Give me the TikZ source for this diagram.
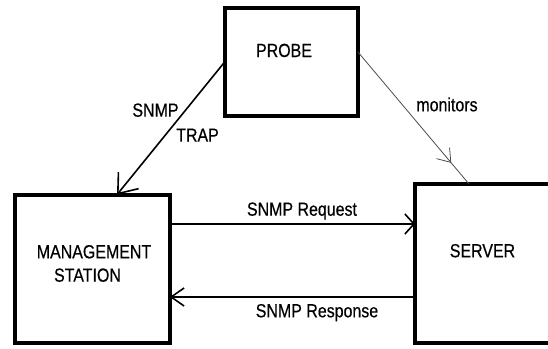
\documentclass[tikz,border=0pt]{standalone}
\usepackage{fontspec}
\newfontfamily\lblfont{Liberation Sans}[FakeStretch=0.84, FakeBold=0.4]
\usetikzlibrary{arrows.meta,calc,decorations.markings}
\begin{document}
\begin{tikzpicture}[x=1pt,y=-1pt,
  box/.style={draw, line width=4pt, inner sep=0pt, outer sep=0pt},
  lbl/.style={font=\lblfont\fontsize{19}{22}\selectfont, anchor=base, inner sep=0pt},
  link/.style={line width=1.6pt},
  probeline/.style={line width=0.8pt, draw=black!70}]
  \path[use as bounding box, clip] (0,0) rectangle (548,348);

  % boxes
  \node[box, minimum width=133.3pt, minimum height=108pt] (probe) at (291.3,62) {};
  \node[box, minimum width=154.4pt, minimum height=148.3pt] (mgmt) at (92.5,268.8) {};
  \node[box, minimum width=185pt, minimum height=159pt] (server) at (507.5,263.5) {};

  % box captions
  \node[lbl] (probetxt) at (284,57) {PROBE};
  \node[lbl] (mgmttxt1) at (94,258.3) {MANAGEMENT};
  \node[lbl] (mgmttxt2) at (87.5,281.7) {STATION};
  \node[lbl] (servertxt) at (482.5,257.3) {SERVER};

  % levels of the request / response arrows
  \coordinate (reqlevel) at (0,224);
  \coordinate (resplevel) at (0,297);

  % trap from the probe down to the management station
  \coordinate (trapend) at ($(mgmt.north west)+(101.7,0)$);
  \draw[link, -{Straight Barb[length=17pt, width=26pt]}] (probe.west) -- (trapend);
  \node[lbl] (snmptxt) at (155.5,116.7) {SNMP};
  \node[lbl] (traptxt) at (197.5,141.7) {TRAP};

  % probe monitors the server
  \coordinate (monstart) at ($(probe.east)+(0,-10)$);
  \coordinate (monend) at ($(server.north west)+(54,0)$);
  \draw[probeline, postaction={decorate},
    decoration={markings, mark=at position 0.84 with
      {\arrow{Straight Barb[length=12pt, width=17pt, line width=0.8pt]}}}]
    (monstart) -- (monend);
  \node[lbl] (montxt) at (447,111.3) {monitors};

  % request and response
  \draw[link, -{Straight Barb[length=9pt, width=20pt]}]
    (mgmt.east |- reqlevel) -- (server.west |- reqlevel);
  \node[lbl] (reqtxt) at (302,215.7) {SNMP Request};
  \draw[link, -{Straight Barb[length=13pt, width=18pt]}]
    (server.west |- resplevel) -- (mgmt.east |- resplevel);
  \node[lbl] (resptxt) at (317,317.3) {SNMP Response};
\end{tikzpicture}
\end{document}
